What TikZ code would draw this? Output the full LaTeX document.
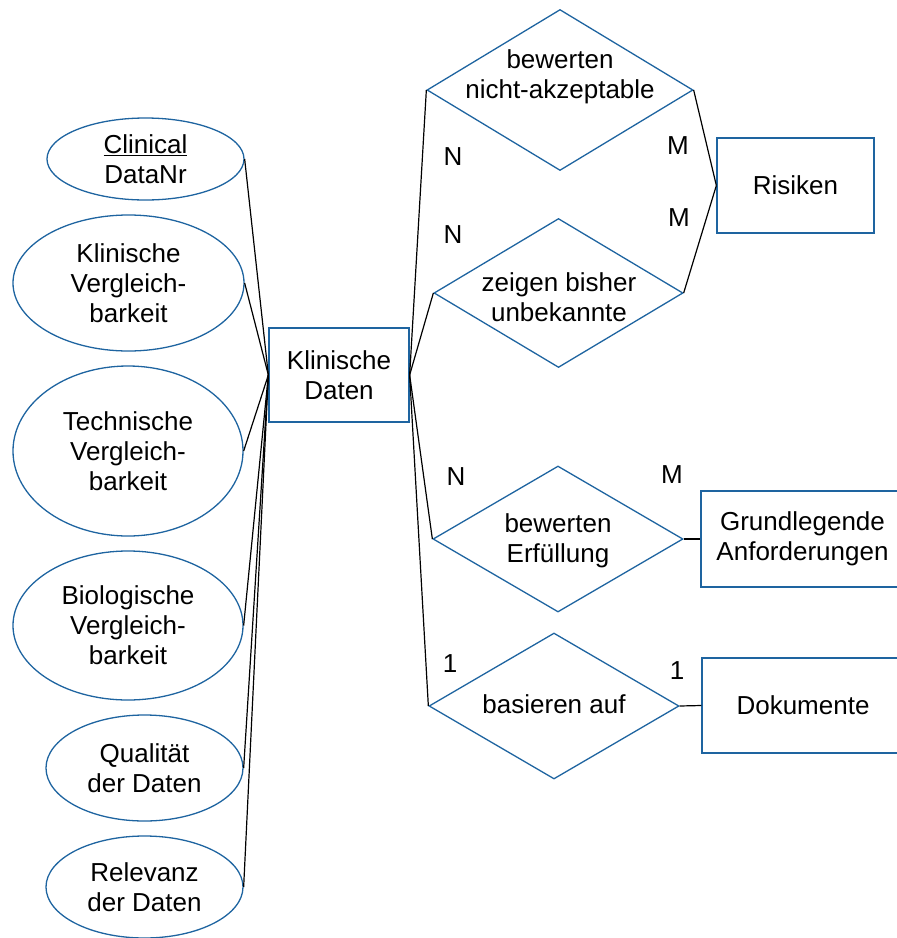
\documentclass[tikz,border=0pt]{standalone}
\usepackage{fontspec}
\setmainfont{Liberation Sans}
\usetikzlibrary{shapes.geometric}
\definecolor{erblue}{RGB}{30,100,160}
\begin{document}
\begin{tikzpicture}[x=1pt,y=-1pt,
  every node/.style={font=\fontsize{26}{30}\selectfont},
  attr/.style={ellipse,draw=erblue,line width=1.3pt,inner sep=0pt,align=center},
  entity/.style={rectangle,draw=erblue,line width=1.3pt,inner sep=0pt,align=center},
  rel/.style={diamond,draw=erblue,line width=1.3pt,inner sep=0pt},
  txt/.style={align=center,inner sep=0pt},
  card/.style={inner sep=0pt},
  link/.style={draw=black,line width=1.2pt}]
\useasboundingbox (0,0) rectangle (897,938);
\clip (0,0) rectangle (897,938);

% attributes
\node[attr,minimum width=197,minimum height=82]  (e1) at (145.5,159) {\underline{Clinical}\\DataNr};
\node[attr,minimum width=231,minimum height=136] (e2) at (128.5,283) {Klinische\\Vergleich-\\barkeit};
\node[attr,minimum width=230,minimum height=170] (e3) at (128,451) {Technische\\Vergleich-\\barkeit};
\node[attr,minimum width=230,minimum height=149] (e4) at (128,625.5) {Biologische\\Vergleich-\\barkeit};
\node[attr,minimum width=197,minimum height=106] (e5) at (144.5,768) {Qualität\\der Daten};
\node[attr,minimum width=197,minimum height=102] (e6) at (144.5,887) {Relevanz\\der Daten};

% entities
\node[entity,minimum width=140,minimum height=94] (kd)  at (339,375) {Klinische\\Daten};
\node[entity,minimum width=157,minimum height=95] (ris) at (795.5,185.5) {Risiken};
\node[entity,minimum width=203,minimum height=96] (gr)  at (802.5,539) {Grundlegende\\Anforderungen};
\node[entity,minimum width=202,minimum height=95] (dok) at (803,705.5) {Dokumente};

% relationships
\node[rel,minimum width=266,minimum height=161] (d1) at (560,90) {};
\node[rel,minimum width=249,minimum height=149] (d2) at (558.5,293) {};
\node[rel,minimum width=250,minimum height=146] (d3) at (558,539) {};
\node[rel,minimum width=250,minimum height=146] (d4) at (554,706) {};
\node[txt] (d1t) at (560,77)  {bewerten\\nicht-akzeptable};
\node[txt] (d2t) at (559,297) {zeigen bisher\\unbekannte};
\node[txt] (d3t) at (558,541) {bewerten\\Erfüllung};
\node[txt] (d4t) at (554,704) {basieren auf};

% connectors
\foreach \e in {e1,e2,e3,e4,e5,e6}
  \path[link] (\e.east) -- (kd.west);
\foreach \d in {d1,d2,d3,d4}
  \path[link] (kd.east) -- (\d.west);
\path[link] (d1.east) -- (ris.west);
\path[link] (d2.east) -- (ris.west);
\path[link] (d3.east) -- (gr.west);
\path[link] (d4.east) -- (dok.west);

% cardinalities
\node[card] (c1) at (453,157) {N};
\node[card] (c2) at (678,146) {M};
\node[card] (c3) at (453,235) {N};
\node[card] (c4) at (679,218) {M};
\node[card] (c5) at (456,477) {N};
\node[card] (c6) at (672,475) {M};
\node[card] (c7) at (450,664) {1};
\node[card] (c8) at (677,671) {1};
\end{tikzpicture}
\end{document}
